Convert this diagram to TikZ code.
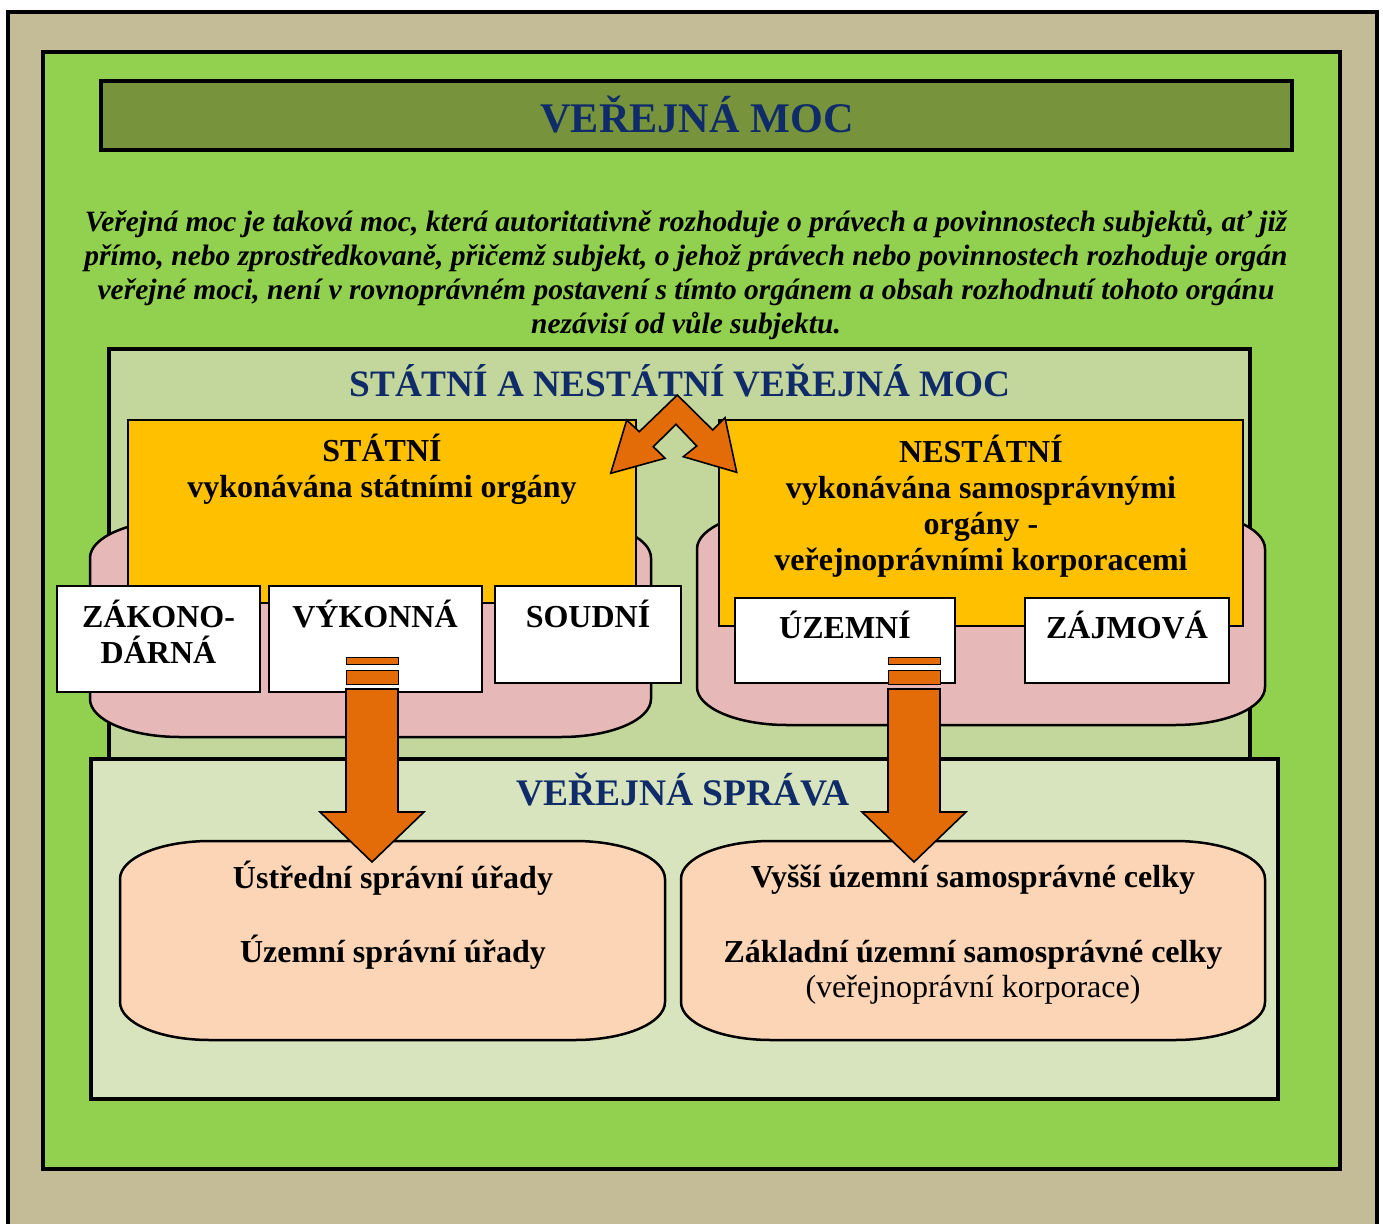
\documentclass[tikz,border=0pt]{standalone}
\usepackage{fontspec}
\setmainfont{Liberation Serif}
\usetikzlibrary{calc}

\definecolor{tanbg}{HTML}{C4BC96}
\definecolor{grass}{HTML}{92D050}
\definecolor{olive}{HTML}{77933C}
\definecolor{sage}{HTML}{C3D69B}
\definecolor{paleg}{HTML}{D7E4BD}
\definecolor{amber}{HTML}{FFC000}
\definecolor{rose}{HTML}{E6B9B8}
\definecolor{peach}{HTML}{FBD5B5}
\definecolor{rust}{HTML}{E36C09}
\definecolor{navy}{HTML}{0F2B6A}

\tikzset{
  frame/.style={draw=black, line width=4pt},
  plainbox/.style={draw=black, line width=2pt, inner sep=0pt},
  headtext/.style={inner sep=0pt, anchor=base, text=navy},
  boxtext/.style={inner sep=0pt, anchor=base, align=center,
    font=\bfseries\fontsize{32}{36}\selectfont},
  rustfill/.style={fill=rust, draw=black, line width=1.6pt, line join=miter}
}

% rectangle with soft oval corners: style, x1, y1, x2, y2
\newcommand{\ovalrect}[5]{
  \draw[#1] (#2,#3+38) .. controls (#2,#3+17) and (#2+40,#3) .. (#2+90,#3)
    -- (#4-90,#3) .. controls (#4-40,#3) and (#4,#3+17) .. (#4,#3+38)
    -- (#4,#5-38) .. controls (#4,#5-17) and (#4-40,#5) .. (#4-90,#5)
    -- (#2+90,#5) .. controls (#2+40,#5) and (#2,#5-17) .. (#2,#5-38) -- cycle;
}

% striped down arrow from a box to a box
\newcommand{\stripearrow}[2]{
  \draw[rustfill, line width=1pt] ($(#1)+(-26,-32)$) rectangle ($(#1)+(26,-25)$);
  \draw[rustfill, line width=1pt] ($(#1)+(-26,-19)$) rectangle ($(#1)+(26,-5)$);
  \draw[rustfill] ($(#1)+(-26,0)$) -- ($(#2)+(-26,-50)$) -- ($(#2)+(-52,-50)$)
    -- (#2) -- ($(#2)+(52,-50)$) -- ($(#2)+(26,-50)$) -- ($(#1)+(26,0)$) -- cycle;
}

\begin{document}
\begin{tikzpicture}[x=1pt, y=-1pt]
\clip (0,0) rectangle (1383,1223);
\fill[white] (0,0) rectangle (1383,1223);

\coordinate (vyk-out) at (372,689);
\coordinate (ustr-in) at (372,862);
\coordinate (uzem-out) at (914,689);
\coordinate (vyssi-in) at (914,862);

% draws frames
\draw[frame, fill=tanbg] (8,12) rectangle (1377,1260);
\draw[frame, fill=grass] (43,52) rectangle (1340,1169);
\node[frame, fill=olive, minimum width=1191, minimum height=69] (titlebar) at (696.5,115.5) {};
\node[headtext, font=\bfseries\fontsize{42.2}{50}\selectfont] (title) at (697,132) {VEŘEJNÁ MOC};

% definition (base = last line)
\node[inner sep=0pt, anchor=base, align=center, font=\bfseries\itshape\fontsize{29.5}{33.7}\selectfont] (def) at (686,333)
  {Veřejná moc je taková moc, která autoritativně rozhoduje o právech a povinnostech subjektů, ať již\\
   přímo, nebo zprostředkovaně, přičemž subjekt, o jehož právech nebo povinnostech rozhoduje orgán\\
   veřejné moci, není v rovnoprávném postavení s tímto orgánem a obsah rozhodnutí tohoto orgánu\\
   nezávisí od vůle subjektu.};

% draws state and non-state power
\node[frame, fill=sage, minimum width=1141, minimum height=426] (moc) at (679.5,562) {};
\node[headtext, font=\bfseries\fontsize{37.3}{44}\selectfont] (moc-t) at (680,396) {STÁTNÍ A NESTÁTNÍ VEŘEJNÁ MOC};

\ovalrect{fill=rose, draw=black, line width=2.5pt}{90}{520}{651}{737}
\ovalrect{fill=rose, draw=black, line width=2.5pt}{697}{511}{1265}{725}

\node[plainbox, fill=amber, minimum width=508, minimum height=183] (statni) at (382,511.5) {};
\node[plainbox, fill=amber, minimum width=524, minimum height=206] (nestatni) at (981,523) {};
\node[boxtext] (statni-t) at (382,497) {STÁTNÍ\\vykonávána státními orgány};
\node[boxtext] (nestatni-t) at (981,570) {NESTÁTNÍ\\vykonávána samosprávnými\\orgány -\\veřejnoprávními korporacemi};

\node[plainbox, fill=white, minimum width=203, minimum height=106] (zakon) at (158.5,639) {};
\node[plainbox, fill=white, minimum width=213, minimum height=106] (vykon) at (375.5,639) {};
\node[plainbox, fill=white, minimum width=186, minimum height=97] (soud) at (588,634.5) {};
\node[plainbox, fill=white, minimum width=220, minimum height=85] (uzem) at (845,640.5) {};
\node[plainbox, fill=white, minimum width=204, minimum height=85] (zajem) at (1127,640.5) {};
\node[boxtext] (zakon-t) at (158.5,663) {ZÁKONO-\\DÁRNÁ};
\node[boxtext] (vykon-t) at (375,627) {VÝKONNÁ};
\node[boxtext] (soud-t) at (588,627) {SOUDNÍ};
\node[boxtext] (uzem-t) at (845,638) {ÚZEMNÍ};
\node[boxtext] (zajem-t) at (1127,638) {ZÁJMOVÁ};

% double arrow between the two kinds of power
\draw[rustfill] (677.3,395) -- (712.7,430) -- (725,417.7) -- (736.7,472.3) -- (683.3,456.7)
  -- (696.7,446) -- (676,424.3) -- (653.3,446.7) -- (665,458.3) -- (610.7,473.3)
  -- (626.7,420) -- (639.3,431.7) -- cycle;

% draws public administration
\node[frame, fill=paleg, minimum width=1187, minimum height=340] (sprava) at (684.5,929) {};
\node[headtext, font=\bfseries\fontsize{37.5}{44}\selectfont] (sprava-t) at (683,805) {VEŘEJNÁ SPRÁVA};

\ovalrect{fill=peach, draw=black, line width=2.5pt}{120}{841}{665}{1040}
\ovalrect{fill=peach, draw=black, line width=2.5pt}{681}{841}{1265}{1040}
\node[boxtext] (ustr-t) at (393,888) {Ústřední správní úřady};
\node[boxtext] (uzurad-t) at (393,962) {Územní správní úřady};
\node[boxtext] (vyssi-t) at (973,887) {Vyšší územní samosprávné celky};
\node[boxtext] (zakl-t) at (973,962) {Základní územní samosprávné celky};
\node[boxtext, font=\fontsize{32}{36}\selectfont] (korp-t) at (973,997) {(veřejnoprávní korporace)};

% draws arrows
\stripearrow{vyk-out}{ustr-in}
\stripearrow{uzem-out}{vyssi-in}
\end{tikzpicture}
\end{document}
